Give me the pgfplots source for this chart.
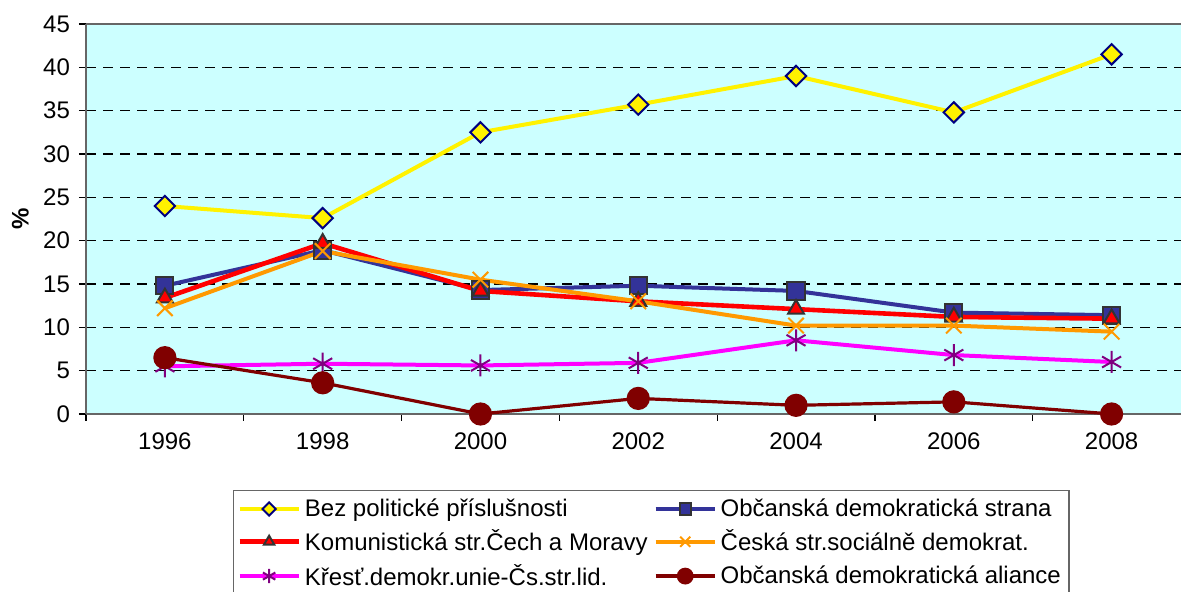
\documentclass[border=0pt]{standalone}
\usepackage{pgfplots}
\pgfplotsset{compat=1.18}
\usepackage{fontspec}
\setmainfont{Liberation Sans}
\definecolor{bgc}{HTML}{CCFFFF}
\definecolor{navy}{HTML}{000080}
\definecolor{ods}{HTML}{333399}
\definecolor{dkg}{HTML}{333333}
\definecolor{orng}{HTML}{FF9900}
\definecolor{mag}{HTML}{FF00FF}
\definecolor{purp}{HTML}{800080}
\definecolor{oda}{HTML}{800000}
\begin{document}
\begin{tikzpicture}
\begin{axis}[
  scale only axis,
  width=547.5pt, height=195pt,
  xmin=-0.5, xmax=6.44,
  ymin=0, ymax=45,
  axis lines=left,
  axis line style={-, draw=gray!80!black, line width=1pt},
  axis background/.style={fill=bgc},
  clip=false,
  font=\fontsize{12}{14}\selectfont,
  /pgf/number format/assume math mode=true,
  ytick={0,5,...,45},
  ymajorgrids,
  grid style={black, dashed, line width=0.6pt, dash pattern=on 5pt off 3.5pt},
  tick style={black, line width=0.6pt},
  major tick length=3.5pt,
  tick align=outside,
  xtick={-0.5,0.5,...,5.5},
  xticklabels={},
  extra x ticks={0,1,2,3,4,5,6},
  extra x tick labels={1996,1998,2000,2002,2004,2006,2008},
  extra x tick style={major tick length=0pt, grid=none, xticklabel style={yshift=-6pt}},
  yticklabel style={xshift=-1pt},
  ylabel={\textbf{\%}},
  ylabel style={at={(axis description cs:-0.06,0.5)}, anchor=center},
  legend columns=2,
  legend cell align=left,
  legend style={at={(axis description cs:0.134,-0.195)}, anchor=north west,
    draw=gray!80!black, line width=0.6pt, font=\fontsize{12}{14}\selectfont,
    inner xsep=2pt, inner ysep=2pt, row sep=1.2pt,
    /tikz/every even column/.append style={column sep=1pt}},
  legend image code/.code={
    \draw[mark repeat=2,mark phase=2, every mark/.append style={scale=0.65}]
      plot coordinates {(0pt,0pt) (14.75pt,0pt) (29.5pt,0pt)};
  },
]
\addplot[yellow, line width=2pt, mark=square*, mark size=3.6pt,
  mark options={rotate=45, fill=yellow, draw=navy, line width=1pt, solid}]
  coordinates {(0,24.0) (1,22.6) (2,32.5) (3,35.7) (4,39.0) (5,34.8) (6,41.5)};
\addlegendentry{Bez politické příslušnosti}
\addplot[ods, line width=2pt, mark=square*, mark size=4.3pt,
  mark options={fill=ods, draw=dkg, line width=1pt}]
  coordinates {(0,14.8) (1,18.9) (2,14.3) (3,14.8) (4,14.2) (5,11.7) (6,11.4)};
\addlegendentry{Občanská demokratická strana}
\addplot[red, line width=2.3pt, mark=triangle*, mark size=4.6pt,
  mark options={fill=red, draw=dkg, line width=1pt}]
  coordinates {(0,13.4) (1,19.7) (2,14.2) (3,13.0) (4,12.1) (5,11.2) (6,11.0)};
\addlegendentry{Komunistická str.Čech a Moravy}
\addplot[orng, line width=2pt, mark=x, mark size=5.5pt,
  mark options={draw=orng, line width=1pt}]
  coordinates {(0,12.2) (1,18.8) (2,15.5) (3,13.0) (4,10.2) (5,10.2) (6,9.5)};
\addlegendentry{Česká str.sociálně demokrat.}
\addplot[mag, line width=2pt, mark=asterisk, mark size=5.5pt,
  mark options={draw=purp, line width=1pt}]
  coordinates {(0,5.5) (1,5.8) (2,5.6) (3,5.9) (4,8.5) (5,6.8) (6,6.0)};
\addlegendentry{Křesť.demokr.unie-Čs.str.lid.}
\addplot[oda, line width=1.6pt, mark=*, mark size=5pt,
  mark options={fill=oda, draw=oda},
  legend image code/.code={
    \draw[oda, line width=1.6pt] (0pt,0pt) -- (29.5pt,0pt);
    \fill[oda] (14.75pt,0pt) circle (3.4pt);
  }]
  coordinates {(0,6.5) (1,3.6) (2,0.0) (3,1.8) (4,1.0) (5,1.4) (6,0.0)};
\addlegendentry{Občanská demokratická aliance}
\draw[gray!80!black, line width=1pt] (rel axis cs:0,1) -- (rel axis cs:1,1);
\end{axis}
\pgfresetboundingbox
\useasboundingbox (-43pt,-89pt) rectangle (547.5pt,207pt);
\end{tikzpicture}
\end{document}
